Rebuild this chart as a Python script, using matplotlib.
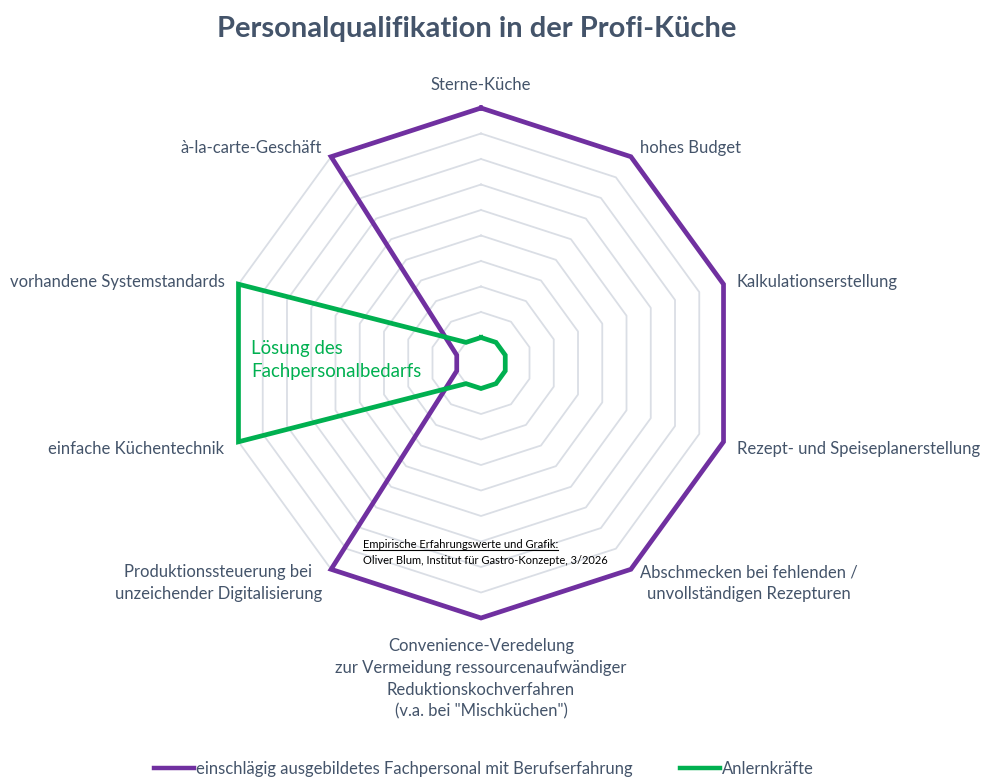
import numpy as np
import matplotlib
matplotlib.use("Agg")
from matplotlib import pyplot as plt
from matplotlib.lines import Line2D

plt.rcParams['font.family'] = ['Lato', 'DejaVu Sans']

# Chart data
categories = [
    "Sterne-Küche",
    "hohes Budget",
    "Kalkulationserstellung",
    "Rezept- und Speiseplanerstellung",
    "Abschmecken bei fehlenden /\nunvollständigen Rezepturen",
    "Convenience-Veredelung\nzur Vermeidung ressourcenaufwändiger\nReduktionskochverfahren\n(v.a. bei \"Mischküchen\")",
    "Produktionssteuerung bei\nunzeichender Digitalisierung",
    "einfache Küchentechnik",
    "vorhandene Systemstandards",
    "à-la-carte-Geschäft",
]
fachpersonal = [10, 10, 10, 10, 10, 10, 10, 1, 1, 10]
anlernkraefte = [1, 1, 1, 1, 1, 1, 1, 10, 10, 1]
grid_levels = [1, 2, 3, 4, 5, 6, 7, 8, 9, 10]

series_names = ["einschlägig ausgebildetes Fachpersonal mit Berufserfahrung", "Anlernkräfte"]
title = "Personalqualifikation in der Profi-Küche"
note_line1 = "Empirische Erfahrungswerte und Grafik:"
note_line2 = "Oliver Blum, Institut für Gastro-Konzepte, 3/2026"
green_note = "Lösung des\nFachpersonalbedarfs"

purple = "#7030A0"
green = "#00B050"
text_col = "#44546A"
grid_col = "#DADEE5"

W, H = 985, 784
fig = plt.figure(figsize=(W / 100, H / 100), dpi=100)

cx, cy, rad = 481, 363, 255
ax = fig.add_axes([(cx - rad) / W, 1 - (cy + rad) / H, 2 * rad / W, 2 * rad / H], polar=True)
ax.set_theta_zero_location('N')
ax.set_theta_direction(-1)
ax.set_ylim(0, 10)
ax.grid(False)
ax.set_xticks([])
ax.set_yticks([])
ax.spines['polar'].set_visible(False)
ax.patch.set_alpha(0)

n = len(categories)
theta = np.linspace(0, 2 * np.pi, n, endpoint=False)
theta_c = np.append(theta, theta[0])

# Decagon grid
for lvl in grid_levels:
    ax.plot(theta_c, [lvl] * (n + 1), color=grid_col, lw=1.3, zorder=1)

# Series
ax.plot(theta_c, fachpersonal + fachpersonal[:1], color=purple, lw=3.4,
        solid_joinstyle='miter', zorder=3, clip_on=False)
ax.plot(theta_c, anlernkraefte + anlernkraefte[:1], color=green, lw=3.4,
        solid_joinstyle='miter', zorder=4, clip_on=False)

# Category labels (offset in pixels from outer vertex)
label_pos = [
    ((0, 23), 'center', 'center'),
    ((9, 9), 'left', 'center'),
    ((13, 2), 'left', 'center'),
    ((13, -7), 'left', 'center'),
    ((9, -14), 'left', 'center'),
    ((0, -20), 'center', 'top'),
    ((-9, -14), 'right', 'center'),
    ((-14, -7), 'right', 'center'),
    ((-14, 2), 'right', 'center'),
    ((-9, 9), 'right', 'center'),
]
for t, lab, (off, ha, va) in zip(theta, categories, label_pos):
    ax.annotate(lab, xy=(t, 10), xytext=off, textcoords='offset pixels',
                ha=ha, va=va, multialignment='center', fontsize=12,
                color=text_col, linespacing=1.45, annotation_clip=False)

# Title
fig.text(477 / W, 1 - 29 / H, title, ha='center', va='center', fontsize=21,
         fontweight='bold', color=text_col)

# Green annotation
fig.text(251 / W, 1 - 360 / H, green_note, ha='left', va='center', fontsize=13.4,
         color=green, linespacing=1.42)

# Source note with underlined first line
t1 = fig.text(363 / W, 1 - 545 / H, note_line1, ha='left', va='center', fontsize=8, color='black')
fig.text(363 / W, 1 - 561 / H, note_line2, ha='left', va='center', fontsize=8, color='black')
renderer = fig.canvas.get_renderer()
bb = t1.get_window_extent(renderer)
fig.add_artist(Line2D([bb.x0 / W, bb.x1 / W], [(bb.y0 + 1) / H, (bb.y0 + 1) / H],
                      transform=fig.transFigure, color='black', lw=0.8))

# Legend
handles = [Line2D([], [], color=purple, lw=3.2), Line2D([], [], color=green, lw=3.2)]
fig.legend(handles, series_names, loc='center', bbox_to_anchor=(484 / W, 1 - 769 / H),
           ncol=2, frameon=False, fontsize=12, handlelength=2.4, handletextpad=0.15,
           columnspacing=2.8, labelcolor=text_col)

fig.savefig("out.png", dpi=100)
